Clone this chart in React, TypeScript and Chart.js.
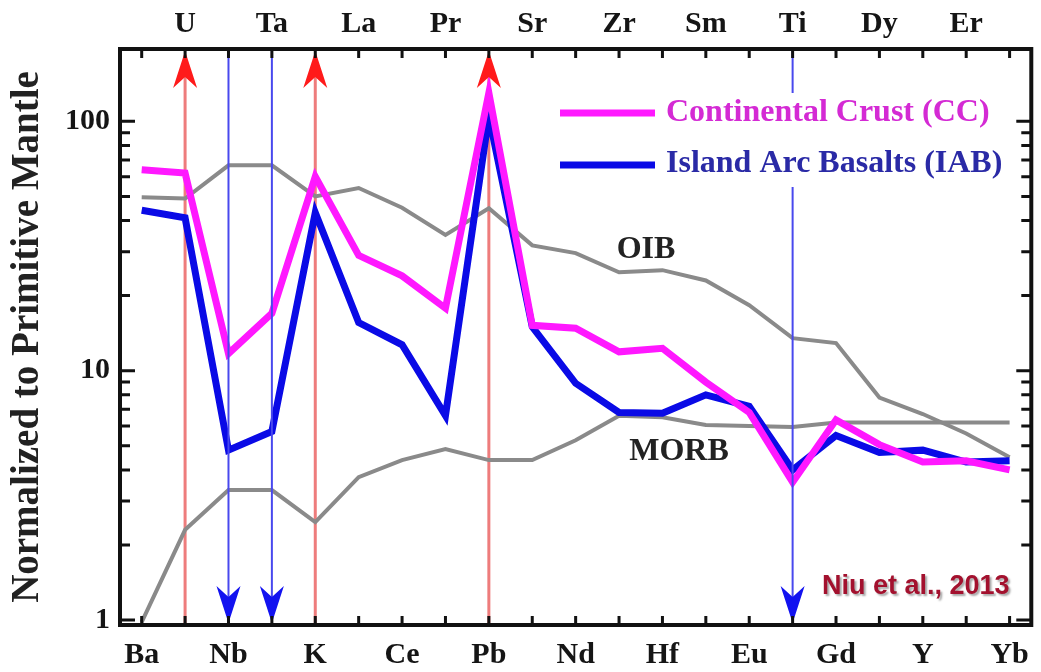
import React, { useEffect, useRef } from "react";
import { Chart, registerables } from "chart.js";

Chart.register(...registerables);

const elements = ["Ba","U","Nb","Ta","K","La","Ce","Pr","Pb","Sr","Nd","Zr","Hf","Sm","Eu","Ti","Gd","Dy","Y","Er","Yb"];
const ccValues = [64, 62, 11.7, 17, 60, 29, 24, 17.8, 130, 15.2, 14.8, 11.9, 12.3, 9.0, 6.8, 3.57, 6.35, 5.05, 4.3, 4.35, 4.0];
const iabValues = [44, 41, 4.8, 5.7, 43, 15.6, 12.7, 6.6, 105, 15, 8.9, 6.8, 6.75, 8.0, 7.2, 4.0, 5.5, 4.7, 4.8, 4.3, 4.35];
const oibValues = [49.6, 49, 66.6, 66.6, 50, 54, 45, 35, 44.8, 31.8, 29.6, 24.8, 25.3, 23, 18.3, 13.5, 12.9, 7.8, 6.7, 5.6, 4.5];
const morbValues = [0.98, 2.3, 3.32, 3.32, 2.47, 3.74, 4.38, 4.85, 4.38, 4.38, 5.26, 6.6, 6.5, 6.05, 6.0, 5.94, 6.2, 6.2, 6.2, 6.2, 6.2];
const enrichedUp = ["U", "K", "Pb"];
const depletedDown = ["Nb", "Ta", "Ti"];
const yMajorTicks = [1, 10, 100];
const yMinorTicks = [2, 3, 4, 5, 6, 7, 8, 9, 20, 30, 40, 50, 60, 70, 80, 90];
const yMin = 0.955;
const yMax = 195;

const SERIF = "'Liberation Serif', 'Times New Roman', serif";

function arrowHead(ctx: CanvasRenderingContext2D, x: number, tipY: number, dir: number, len: number, w: number) {
  ctx.beginPath();
  ctx.moveTo(x, tipY);
  ctx.lineTo(x - w / 2, tipY + dir * len);
  ctx.lineTo(x, tipY + dir * len * 0.7);
  ctx.lineTo(x + w / 2, tipY + dir * len);
  ctx.closePath();
  ctx.fill();
}

const overlay = {
  id: "overlay",
  beforeDatasetsDraw(chart: any) {
    const ctx = chart.ctx;
    const xs = chart.scales.x;
    const { top, bottom } = chart.chartArea;
    ctx.save();
    ctx.strokeStyle = "rgba(236,110,110,0.9)";
    ctx.lineWidth = 3;
    enrichedUp.forEach((el) => {
      const x = xs.getPixelForValue(elements.indexOf(el));
      ctx.beginPath();
      ctx.moveTo(x, bottom);
      ctx.lineTo(x, top + 20);
      ctx.stroke();
    });
    ctx.restore();
  },
  afterDatasetsDraw(chart: any) {
    const ctx = chart.ctx;
    const xs = chart.scales.x;
    const ys = chart.scales.y;
    const { left, right, top, bottom } = chart.chartArea;
    ctx.save();
    // red heads
    ctx.fillStyle = "#ff1a1a";
    enrichedUp.forEach((el) => {
      const x = xs.getPixelForValue(elements.indexOf(el));
      arrowHead(ctx, x, top + 2, 1, 37, 24);
    });
    // blue arrows
    ctx.strokeStyle = "#4848ee";
    ctx.lineWidth = 2;
    depletedDown.forEach((el) => {
      const x = xs.getPixelForValue(elements.indexOf(el));
      ctx.beginPath();
      ctx.moveTo(x, top);
      ctx.lineTo(x, bottom - 20);
      ctx.stroke();
    });
    ctx.fillStyle = "#1212f0";
    depletedDown.forEach((el) => {
      const x = xs.getPixelForValue(elements.indexOf(el));
      arrowHead(ctx, x, bottom - 2, -1, 37, 24);
    });

    // legend
    ctx.fillStyle = "#ffffff";
    ctx.fillRect(662, 93, 350, 94);
    ctx.lineCap = "butt";
    ctx.lineWidth = 7;
    ctx.strokeStyle = "#ff18ff";
    ctx.beginPath();
    ctx.moveTo(560, 113);
    ctx.lineTo(655, 113);
    ctx.stroke();
    ctx.strokeStyle = "#0a0ae6";
    ctx.beginPath();
    ctx.moveTo(560, 165);
    ctx.lineTo(655, 165);
    ctx.stroke();
    ctx.font = `bold 32px ${SERIF}`;
    ctx.textBaseline = "middle";
    ctx.textAlign = "left";
    ctx.fillStyle = "#d42ad4";
    ctx.fillText("Continental Crust (CC)", 666, 113);
    ctx.fillStyle = "#2a2aa6";
    ctx.fillText("Island Arc Basalts (IAB)", 666, 164);

    // curve labels
    ctx.fillStyle = "#222222";
    ctx.textAlign = "center";
    ctx.fillText("OIB", 646, 250);
    ctx.fillText("MORB", 679, 452);

    // inward ticks
    ctx.strokeStyle = "#111111";
    ctx.lineWidth = 3;
    elements.forEach((_, i) => {
      const x = xs.getPixelForValue(i);
      ctx.beginPath();
      ctx.moveTo(x, bottom);
      ctx.lineTo(x, bottom - 9);
      ctx.moveTo(x, top);
      ctx.lineTo(x, top + 9);
      ctx.stroke();
    });
    const drawYTick = (v: number, len: number) => {
      const y = ys.getPixelForValue(v);
      if (y < top || y > bottom) return;
      ctx.beginPath();
      ctx.moveTo(left, y);
      ctx.lineTo(left + len, y);
      ctx.moveTo(right, y);
      ctx.lineTo(right - len, y);
      ctx.stroke();
    };
    yMajorTicks.forEach((v) => drawYTick(v, 15));
    yMinorTicks.forEach((v) => drawYTick(v, 10));

    // frame
    ctx.lineWidth = 4;
    ctx.strokeStyle = "#111111";
    ctx.strokeRect(left, top, right - left, bottom - top);

    // citation
    ctx.font = "bold 27px 'Liberation Sans', Arial, sans-serif";
    ctx.textAlign = "left";
    ctx.shadowColor = "rgba(0,0,0,0.35)";
    ctx.shadowOffsetX = 2;
    ctx.shadowOffsetY = 2;
    ctx.shadowBlur = 2;
    ctx.fillStyle = "#a3112e";
    ctx.fillText("Niu et al., 2013", 822, 587);
    ctx.restore();
  },
};

export default function App() {
  const ref = useRef<HTMLCanvasElement | null>(null);
  useEffect(() => {
    document.body.style.margin = "0";
    const canvas = ref.current;
    if (!canvas) return;
    const tickFont = { family: SERIF, size: 30, weight: "bold" as const };
    const chart = new Chart(canvas, {
      type: "line",
      data: {
        labels: elements,
        datasets: [
          { label: "Continental Crust (CC)", data: ccValues, borderColor: "#ff18ff", borderWidth: 7, pointRadius: 0, tension: 0, fill: false },
          { label: "Island Arc Basalts (IAB)", data: iabValues, borderColor: "#0a0ae6", borderWidth: 7, pointRadius: 0, tension: 0, fill: false },
          { label: "OIB", data: oibValues, borderColor: "#8a8a8a", borderWidth: 4, pointRadius: 0, tension: 0, fill: false },
          { label: "MORB", data: morbValues, borderColor: "#8a8a8a", borderWidth: 4, pointRadius: 0, tension: 0, fill: false },
        ],
      },
      options: {
        responsive: false,
        animation: false,
        devicePixelRatio: 1,
        layout: { padding: { left: 0, right: 8, top: 0, bottom: 0 } },
        plugins: { legend: { display: false }, tooltip: { enabled: false } },
        scales: {
          x: {
            type: "category",
            position: "bottom",
            offset: true,
            grid: { display: false, drawTicks: false },
            border: { display: false },
            ticks: {
              autoSkip: false,
              maxRotation: 0,
              padding: 12,
              color: "#151515",
              font: tickFont,
              callback: (_v: any, i: number) => (i % 2 === 0 ? elements[i] : ""),
            },
            afterFit: (s: any) => { s.height = 47; },
          },
          xTop: {
            type: "category",
            labels: elements,
            position: "top",
            offset: true,
            grid: { display: false, drawTicks: false },
            border: { display: false },
            ticks: {
              autoSkip: false,
              maxRotation: 0,
              padding: 7,
              color: "#151515",
              font: tickFont,
              callback: (_v: any, i: number) => (i % 2 === 1 ? elements[i] : ""),
            },
            afterFit: (s: any) => { s.height = 49; },
          },
          y: {
            type: "logarithmic",
            position: "left",
            min: yMin,
            max: yMax,
            grid: { display: false, drawTicks: false },
            border: { display: false },
            afterBuildTicks: (axis: any) => {
              axis.ticks = yMajorTicks.map((v) => ({ value: v }));
            },
            ticks: {
              autoSkip: false,
              padding: 10,
              color: "#151515",
              font: tickFont,
              callback: (v: any) => String(v),
            },
            title: {
              display: true,
              text: "Normalized to Primitive Mantle",
              color: "#222222",
              font: { family: SERIF, size: 39, weight: "bold" },
              padding: { top: 5, bottom: 0 },
            },
            afterFit: (s: any) => { s.width = 120; },
          },
        },
      },
      plugins: [overlay],
    });
    return () => chart.destroy();
  }, []);
  return (
    <div style={{ position: "fixed", left: 0, top: 0, width: 1041, height: 672, background: "#fff" }}>
      <canvas ref={ref} width={1041} height={672} style={{ display: "block" }} />
    </div>
  );
}
